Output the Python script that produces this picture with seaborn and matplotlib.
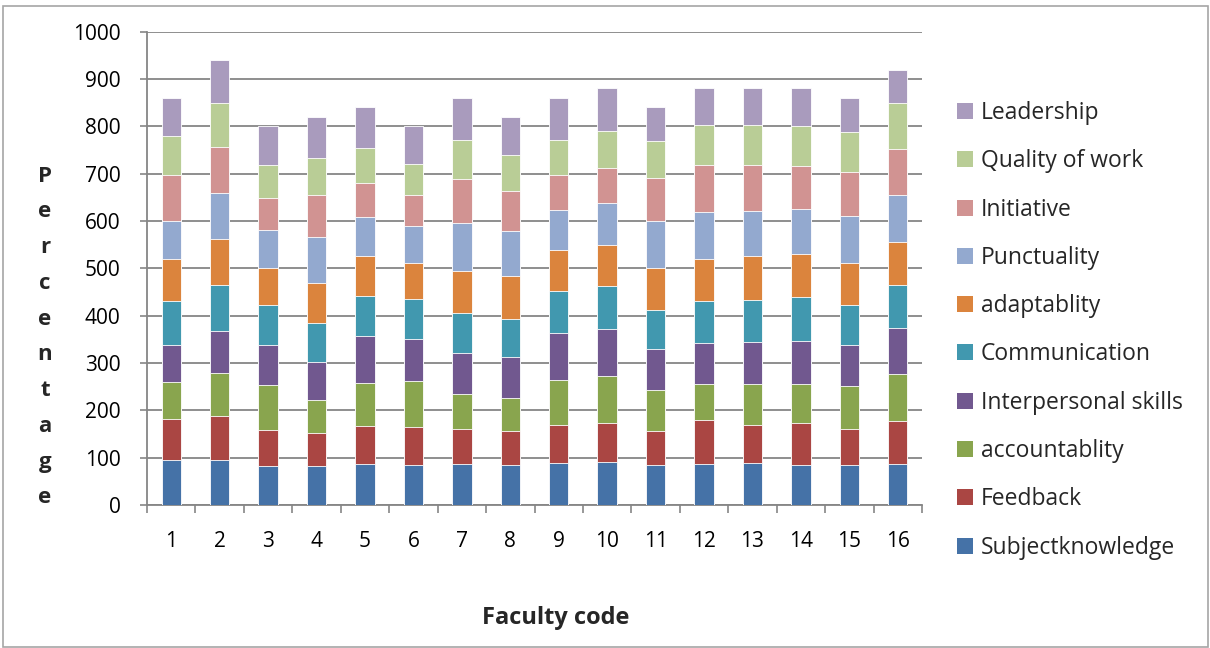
import matplotlib
matplotlib.use("Agg")
import matplotlib.pyplot as plt
from matplotlib.patches import Patch, Rectangle
import numpy as np
import pandas as pd
import seaborn as sns

# Faculty codes along the x axis
faculty = [str(i) for i in range(1, 17)]

# Scores per criterion for each faculty member (stacked bottom to top)
subject_knowledge = [94, 94, 82, 82, 86, 84, 86, 84, 88, 90, 84, 87, 89, 85, 85, 87]
feedback = [88, 93, 77, 71, 80, 80, 75, 72, 82, 84, 72, 93, 79, 88, 76, 91]
accountability = [77, 92, 95, 69, 91, 98, 74, 71, 95, 99, 88, 75, 87, 82, 90, 98]
interpersonal = [78, 88, 85, 81, 99, 88, 86, 85, 99, 99, 85, 88, 90, 92, 87, 97]
communication = [93, 97, 83, 82, 86, 85, 85, 82, 89, 90, 84, 87, 89, 92, 84, 91]
adaptability = [89, 99, 79, 85, 84, 77, 89, 89, 86, 87, 87, 90, 93, 92, 90, 92]
punctuality = [80, 97, 81, 97, 83, 77, 100, 96, 85, 89, 99, 100, 95, 95, 98, 98]
initiative = [98, 97, 67, 88, 71, 65, 94, 85, 73, 75, 91, 98, 97, 90, 94, 99]
quality_of_work = [83, 93, 69, 78, 75, 67, 83, 75, 75, 77, 79, 84, 83, 85, 83, 96]
leadership = [80, 90, 82, 87, 85, 79, 88, 81, 88, 90, 71, 78, 78, 79, 73, 71]

series_names = ["Subjectknowledge", "Feedback", "accountablity", "Interpersonal skills",
                "Communication", "adaptablity", "Punctuality", "Initiative",
                "Quality of work", "Leadership"]
series_values = [subject_knowledge, feedback, accountability, interpersonal,
                 communication, adaptability, punctuality, initiative,
                 quality_of_work, leadership]
series_colors = ["#4572A7", "#AA4643", "#89A54E", "#71588F", "#4198AF",
                 "#DB843D", "#93A9CF", "#D19392", "#B9CD96", "#A99BBD"]

y_ticks = [0, 100, 200, 300, 400, 500, 600, 700, 800, 900, 1000]

sns.set_theme(style="white")
plt.rcParams["font.family"] = ["Open Sans", "DejaVu Sans"]

fig = plt.figure(figsize=(12.1, 6.48), dpi=100)
ax = fig.add_axes([0.1215, 0.2207, 0.6405, 0.7304])

# Cumulative totals: draw tallest layer first so lower layers sit on top
cum = np.cumsum(np.array(series_values), axis=0)
for name, color, top in reversed(list(zip(series_names, series_colors, cum))):
    df = pd.DataFrame({"Faculty code": faculty, "value": top})
    sns.barplot(data=df, x="Faculty code", y="value", color=color, width=0.4,
                saturation=1, edgecolor="white", linewidth=0.6, ax=ax, zorder=3)

ax.set_xlim(-0.5, 15.5)
ax.set_ylim(0, 1000)
ax.set_yticks(y_ticks)
ax.set_yticklabels([str(v) for v in y_ticks], fontsize=15)
ax.set_xticks(range(16))
ax.set_xticklabels(faculty, fontsize=15)
ax.set_xticks(np.arange(-0.5, 16, 1), minor=True)

grid_color = "#868686"
ax.yaxis.grid(True, color=grid_color, linewidth=1.3, zorder=0)
ax.set_axisbelow(True)
for side in ["top", "right"]:
    ax.spines[side].set_visible(False)
for side in ["left", "bottom"]:
    ax.spines[side].set_color(grid_color)
    ax.spines[side].set_linewidth(1.3)

ax.tick_params(axis="y", which="major", left=True, length=5, width=1.2,
               color=grid_color, pad=14, labelcolor="black")
ax.tick_params(axis="x", which="major", bottom=False, length=0, pad=19,
               labelcolor="black")
ax.tick_params(axis="x", which="minor", bottom=True, length=6, width=1.2,
               color=grid_color)

ax.set_xlabel("")
ax.set_ylabel("")
fig.text(556 / 1210, 1 - 618 / 648, "Faculty code", ha="center", va="center",
         fontsize=17, fontweight="bold")
fig.text(45 / 1210, 1 - 337 / 648, "\n".join("Percentage"), ha="center", va="center",
         fontsize=16, fontweight="bold", linespacing=1.92)

handles = [Patch(facecolor=c, edgecolor="none") for c in reversed(series_colors)]
fig.legend(handles, list(reversed(series_names)), loc="upper left",
           bbox_to_anchor=(957 / 1210, 1 - 101 / 648), frameon=False,
           fontsize=16.5, handlelength=0.7, handleheight=0.7,
           handletextpad=0.35, labelspacing=1.06, borderpad=0, borderaxespad=0)

# Chart frame
fig.patches.append(Rectangle((3 / 1210, 1 / 648), 1205 / 1210, 641 / 648,
                             transform=fig.transFigure, fill=False,
                             edgecolor="#A6A6A6", linewidth=1.2))

fig.savefig("out.png", dpi=100)
